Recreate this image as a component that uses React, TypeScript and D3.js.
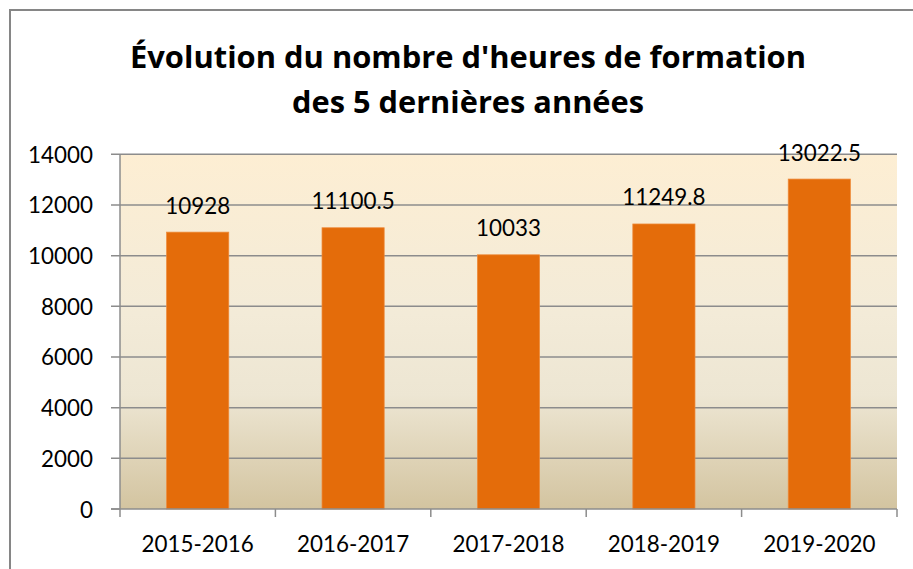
import React from "react";
import * as d3 from "d3";

const categories = ["2015-2016", "2016-2017", "2017-2018", "2018-2019", "2019-2020"];
const values = [10928, 11100.5, 10033, 11249.8, 13022.5];
const valueLabels = ["10928", "11100.5", "10033", "11249.8", "13022.5"];
const yTicks = [0, 2000, 4000, 6000, 8000, 10000, 12000, 14000];
const titleLines = ["Évolution du nombre d'heures de formation", "des 5 dernières années"];

const W = 913;
const H = 569;
const plot = { left: 120, right: 897, top: 154.3, bottom: 509 };
const FONT = "Lato, 'Open Sans', sans-serif";
const TITLE_FONT = "'Open Sans', Lato, sans-serif";

export default function App() {
  const x = d3
    .scaleBand<string>()
    .domain(categories)
    .range([plot.left, plot.right])
    .paddingInner(0.6)
    .paddingOuter(0.3);
  const band = d3.scaleBand<string>().domain(categories).range([plot.left, plot.right]);
  const y = d3.scaleLinear().domain([0, 14000]).range([plot.bottom, plot.top]);

  const gridColor = "#8c8c8c";
  const boundaries = categories.map((c) => band(c) as number).concat([plot.right]);

  return (
    <svg
      width={W}
      height={H}
      style={{ position: "absolute", left: 0, top: 0, background: "#fff" }}
    >
      <defs>
        <linearGradient id="bg" x1="0" y1="0" x2="0" y2="1">
          <stop offset="0%" stopColor="#FDEED3" />
          <stop offset="45%" stopColor="#F3EBD8" />
          <stop offset="68%" stopColor="#EDE6D3" />
          <stop offset="100%" stopColor="#D3C4A0" />
        </linearGradient>
      </defs>
      <rect x={10} y={10} width={1000} height={1000} fill="#fff" stroke="#868686" strokeWidth={2} />
      {/* Title */}
      <text
        x={468}
        y={68}
        textAnchor="middle"
        fontFamily={TITLE_FONT}
        fontWeight={700}
        fontSize={31}
        fill="#000"
        textLength={676}
        lengthAdjust="spacingAndGlyphs"
        style={{ fontVariantLigatures: "none" }}
      >
        {titleLines[0]}
      </text>
      <text
        x={468}
        y={113}
        textAnchor="middle"
        fontFamily={TITLE_FONT}
        fontWeight={700}
        fontSize={31}
        fill="#000"
        textLength={352}
        lengthAdjust="spacingAndGlyphs"
        style={{ fontVariantLigatures: "none" }}
      >
        {titleLines[1]}
      </text>
      {/* Plot background */}
      <rect
        x={plot.left}
        y={plot.top}
        width={plot.right - plot.left}
        height={plot.bottom - plot.top}
        fill="url(#bg)"
      />
      {/* Gridlines and y ticks */}
      {yTicks.map((t) => (
        <g key={t}>
          <line
            x1={plot.left - 9}
            x2={t === 0 ? plot.left : plot.right}
            y1={y(t)}
            y2={y(t)}
            stroke={gridColor}
            strokeWidth={1.5}
          />
          <text
            x={93}
            y={y(t) + 8.5}
            textAnchor="end"
            fontFamily={FONT}
            fontSize={22.4}
            fill="#000"
          >
            {t}
          </text>
        </g>
      ))}
      {/* Bars */}
      {values.map((v, i) => (
        <rect
          key={categories[i]}
          x={x(categories[i])}
          y={y(v)}
          width={x.bandwidth()}
          height={y(0) - y(v)}
          fill="#E46C0A"
          stroke="#EE8A3A"
          strokeWidth={0.75}
        />
      ))}
      {/* Axes */}
      <line x1={plot.left} x2={plot.left} y1={plot.top} y2={plot.bottom} stroke={gridColor} strokeWidth={1.5} />
      <line x1={plot.left - 9} x2={plot.right} y1={plot.bottom} y2={plot.bottom} stroke={gridColor} strokeWidth={1.5} />
      {boundaries.map((b, i) => (
        <line key={i} x1={b} x2={b} y1={plot.bottom} y2={plot.bottom + 8} stroke={gridColor} strokeWidth={1.5} />
      ))}
      {/* Value labels */}
      {values.map((v, i) => (
        <text
          key={"l" + i}
          x={(x(categories[i]) as number) + x.bandwidth() / 2}
          y={y(v) - 18.5}
          textAnchor="middle"
          fontFamily={FONT}
          fontSize={22.4}
          fill="#000"
        >
          {valueLabels[i]}
        </text>
      ))}
      {/* X labels */}
      {categories.map((c) => (
        <text
          key={"x" + c}
          x={(band(c) as number) + band.bandwidth() / 2}
          y={551.7}
          textAnchor="middle"
          fontFamily={FONT}
          fontSize={22.4}
          fill="#000"
        >
          {c}
        </text>
      ))}
    </svg>
  );
}
